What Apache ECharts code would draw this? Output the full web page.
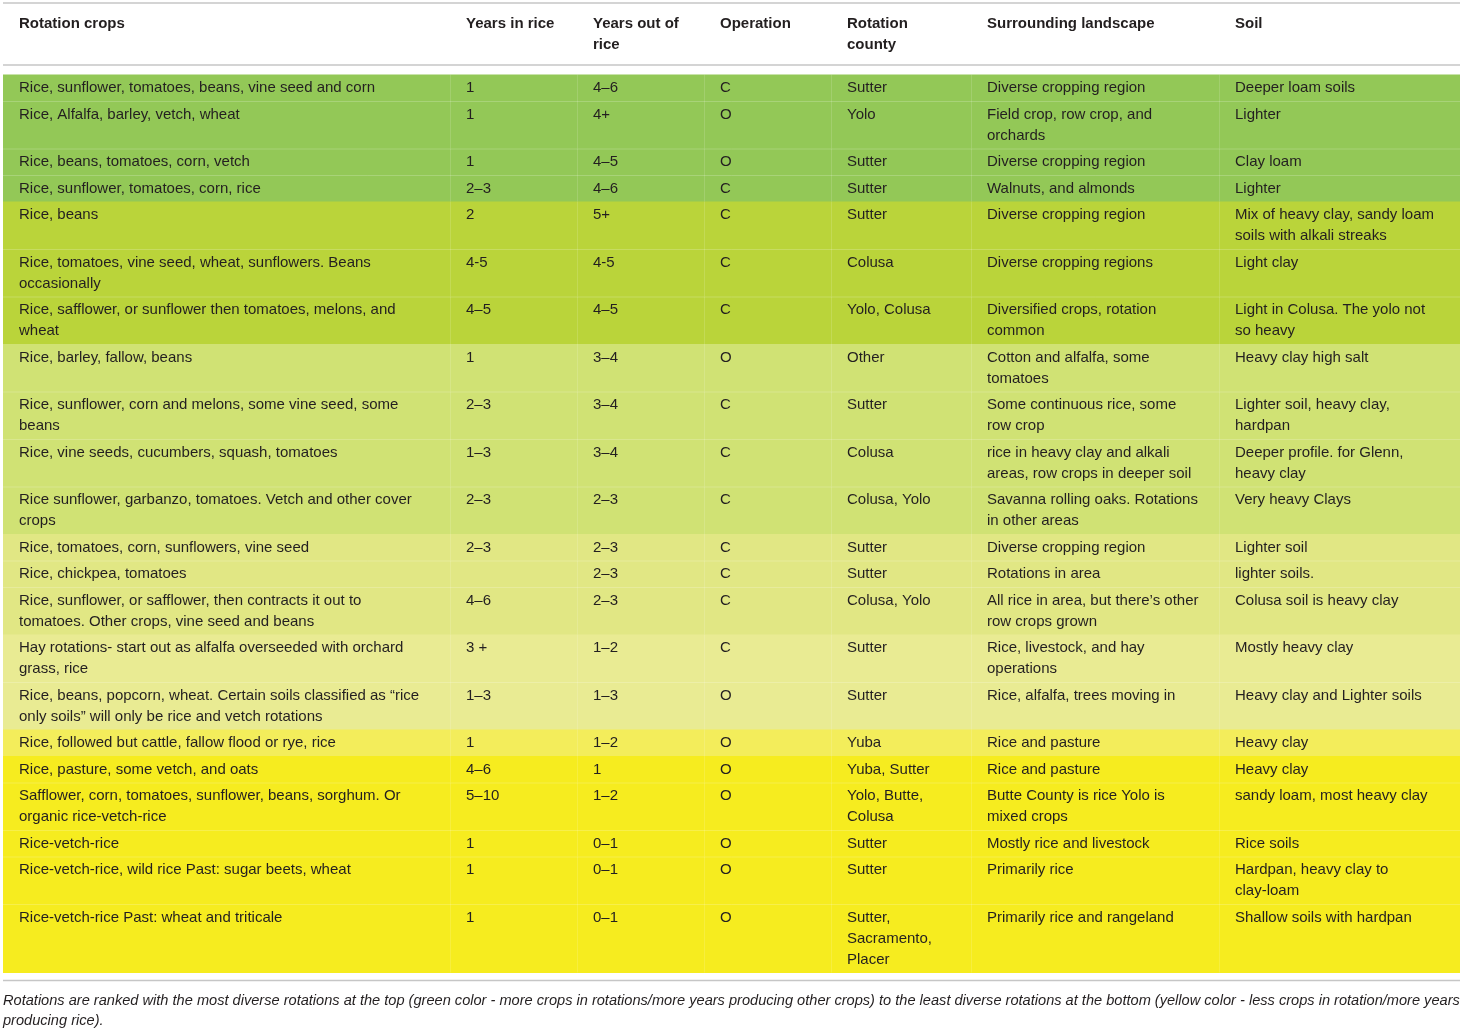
<!DOCTYPE html>
<html>
<head>
<meta charset="utf-8">
<script src="https://cdn.jsdelivr.net/npm/echarts@6/dist/echarts.min.js"></script>
<style>
  html, body { margin: 0; padding: 0; background: #fff; }
  #main { width: 1463px; height: 1030px; }
</style>
</head>
<body>
<div id="main"></div>
<script>
// table content, one array per column
const headers = ['Rotation crops', 'Years in rice', 'Years out of\nrice', 'Operation', 'Rotation\ncounty', 'Surrounding landscape', 'Soil'];

const crops = [
  'Rice, sunflower, tomatoes, beans, vine seed and corn',
  'Rice, Alfalfa, barley, vetch, wheat',
  'Rice, beans, tomatoes, corn, vetch',
  'Rice, sunflower, tomatoes, corn, rice',
  'Rice, beans',
  'Rice, tomatoes, vine seed, wheat, sunflowers. Beans\noccasionally',
  'Rice, safflower, or sunflower then tomatoes, melons, and\nwheat',
  'Rice, barley, fallow, beans',
  'Rice, sunflower, corn and melons, some vine seed, some\nbeans',
  'Rice, vine seeds, cucumbers, squash, tomatoes',
  'Rice sunflower, garbanzo, tomatoes. Vetch and other cover\ncrops',
  'Rice, tomatoes, corn, sunflowers, vine seed',
  'Rice, chickpea, tomatoes',
  'Rice, sunflower, or safflower, then contracts it out to\ntomatoes. Other crops, vine seed and beans',
  'Hay rotations- start out as alfalfa overseeded with orchard\ngrass, rice',
  'Rice, beans, popcorn, wheat. Certain soils classified as \u201crice\nonly soils\u201d will only be rice and vetch rotations',
  'Rice, followed but cattle, fallow flood or rye, rice',
  'Rice, pasture, some vetch, and oats',
  'Safflower, corn, tomatoes, sunflower, beans, sorghum. Or\norganic rice-vetch-rice',
  'Rice-vetch-rice',
  'Rice-vetch-rice, wild rice Past: sugar beets, wheat',
  'Rice-vetch-rice Past: wheat and triticale'
];
const yearsIn = ['1', '1', '1', '2\u20133', '2', '4-5', '4\u20135', '1', '2\u20133', '1\u20133', '2\u20133',
  '2\u20133', '', '4\u20136', '3 +', '1\u20133', '1', '4\u20136', '5\u201310', '1', '1', '1'];
const yearsOut = ['4\u20136', '4+', '4\u20135', '4\u20136', '5+', '4-5', '4\u20135', '3\u20134', '3\u20134', '3\u20134', '2\u20133',
  '2\u20133', '2\u20133', '2\u20133', '1\u20132', '1\u20133', '1\u20132', '1', '1\u20132', '0\u20131', '0\u20131', '0\u20131'];
const operation = ['C', 'O', 'O', 'C', 'C', 'C', 'C', 'O', 'C', 'C', 'C',
  'C', 'C', 'C', 'C', 'O', 'O', 'O', 'O', 'O', 'O', 'O'];
const county = ['Sutter', 'Yolo', 'Sutter', 'Sutter', 'Sutter', 'Colusa', 'Yolo, Colusa', 'Other', 'Sutter', 'Colusa', 'Colusa, Yolo',
  'Sutter', 'Sutter', 'Colusa, Yolo', 'Sutter', 'Sutter', 'Yuba', 'Yuba, Sutter', 'Yolo, Butte,\nColusa', 'Sutter', 'Sutter',
  'Sutter,\nSacramento,\nPlacer'];
const landscape = [
  'Diverse cropping region',
  'Field crop, row crop, and\norchards',
  'Diverse cropping region',
  'Walnuts, and almonds',
  'Diverse cropping region',
  'Diverse cropping regions',
  'Diversified crops, rotation\ncommon',
  'Cotton and alfalfa, some\ntomatoes',
  'Some continuous rice, some\nrow crop',
  'rice in heavy clay and alkali\nareas, row crops in deeper soil',
  'Savanna rolling oaks. Rotations\nin other areas',
  'Diverse cropping region',
  'Rotations in area',
  'All rice in area, but there\u2019s other\nrow crops grown',
  'Rice, livestock, and hay\noperations',
  'Rice, alfalfa, trees moving in',
  'Rice and pasture',
  'Rice and pasture',
  'Butte County is rice Yolo is\nmixed crops',
  'Mostly rice and livestock',
  'Primarily rice',
  'Primarily rice and rangeland'
];
const soil = [
  'Deeper loam soils',
  'Lighter',
  'Clay loam',
  'Lighter',
  'Mix of heavy clay, sandy loam\nsoils with alkali streaks',
  'Light clay',
  'Light in Colusa. The yolo not\nso heavy',
  'Heavy clay high salt',
  'Lighter soil, heavy clay,\nhardpan',
  'Deeper profile. for Glenn,\nheavy clay',
  'Very heavy Clays',
  'Lighter soil',
  'lighter soils.',
  'Colusa soil is heavy clay',
  'Mostly heavy clay',
  'Heavy clay and Lighter soils',
  'Heavy clay',
  'Heavy clay',
  'sandy loam, most heavy clay',
  'Rice soils',
  'Hardpan, heavy clay to\nclay-loam',
  'Shallow soils with hardpan'
];
// diversity rank group of each row (0 = most diverse, green)
const rankGroup = [0, 0, 0, 0, 1, 1, 1, 2, 2, 2, 2, 3, 3, 3, 4, 4, 5, 6, 6, 6, 6, 6];
const groupColors = ['#93c857', '#bad43a', '#d0e274', '#e1e784', '#e9eb93', '#f3ed5b', '#f6ec1f'];

const footnote = 'Rotations are ranked with the most diverse rotations at the top (green color - more crops in rotations/more years producing other crops) to the least diverse rotations at the bottom (yellow color - less crops in rotation/more years\nproducing rice).';

// layout
const colEdges = [3, 450, 577, 704, 831, 971, 1219, 1460];
const padX = 16;
const lineH = 21;
const rowPad = 5.5;
const headTop = 3;
const headBottom = 65;
const bodyTop = 74.5;
const fontFamily = '"Liberation Sans", Arial, sans-serif';
const textColor = '#231f20';

const columns = [crops, yearsIn, yearsOut, operation, county, landscape, soil];

// row top / bottom in table units
const rowTops = [];
const rowBottoms = [];
let y = bodyTop;
crops.forEach(function (c, i) {
  let lines = 1;
  columns.forEach(function (col) {
    lines = Math.max(lines, col[i].split('\n').length);
  });
  rowTops.push(y);
  y += lines * lineH + rowPad;
  rowBottoms.push(y);
});
const bodyBottom = y;
const tableBottom = bodyBottom + 8;

const chart = echarts.init(document.getElementById('main'));

function cellText(x, yy, text, bold) {
  return {
    type: 'text',
    style: {
      x: x, y: yy, text: text,
      fill: textColor,
      font: (bold ? 'bold ' : '') + '15px ' + fontFamily,
      lineHeight: lineH,
      verticalAlign: 'top',
      align: 'left'
    },
    silent: true
  };
}

const option = {
  animation: false,
  title: {
    text: footnote,
    left: 3,
    top: tableBottom + 10,
    padding: 0,
    textStyle: {
      fontFamily: fontFamily,
      fontStyle: 'italic',
      fontWeight: 'normal',
      fontSize: 14.6,
      lineHeight: 20,
      color: textColor
    }
  },
  grid: { left: 0, right: 0, top: 0, bottom: 0 },
  xAxis: { type: 'value', min: 0, max: 1463, show: false },
  yAxis: { type: 'value', min: 0, max: 1030, inverse: true, show: false },
  series: [
    {
      // header rules and header labels
      type: 'custom',
      data: [0],
      renderItem: function (params, api) {
        const children = [];
        const p0 = api.coord([colEdges[0], headTop]);
        const p1 = api.coord([colEdges[colEdges.length - 1], headTop]);
        const h0 = api.coord([colEdges[0], headBottom]);
        const b0 = api.coord([colEdges[0], tableBottom]);
        [p0[1], h0[1], b0[1]].forEach(function (ly) {
          children.push({
            type: 'line',
            shape: { x1: p0[0], y1: ly, x2: p1[0], y2: ly },
            style: { stroke: '#c6c6c6', lineWidth: 1.6 }
          });
        });
        headers.forEach(function (h, c) {
          const p = api.coord([colEdges[c] + padX, headTop + 10.5]);
          children.push(cellText(p[0], p[1], h, true));
        });
        return { type: 'group', children: children };
      }
    },
    {
      // body rows: background, faint cell rules, text
      type: 'custom',
      data: crops.map(function (c, i) { return [i, rowTops[i], rowBottoms[i], rankGroup[i]]; }),
      renderItem: function (params, api) {
        const i = params.dataIndex;
        const top = api.value(1);
        const bottom = api.value(2);
        const tl = api.coord([colEdges[0], top]);
        const br = api.coord([colEdges[colEdges.length - 1], bottom]);
        const children = [{
          type: 'rect',
          shape: { x: tl[0], y: tl[1], width: br[0] - tl[0], height: br[1] - tl[1] + 0.5 },
          style: { fill: groupColors[api.value(3)] }
        }];
        if (i > 0 && rankGroup[i - 1] === rankGroup[i]) {
          children.push({
            type: 'line',
            shape: { x1: tl[0], y1: tl[1] + 0.5, x2: br[0], y2: tl[1] + 0.5 },
            style: { stroke: 'rgba(255,255,255,0.2)', lineWidth: 1 }
          });
        }
        for (let c = 1; c < colEdges.length - 1; c++) {
          const vx = api.coord([colEdges[c], top])[0];
          children.push({
            type: 'line',
            shape: { x1: vx + 0.5, y1: tl[1], x2: vx + 0.5, y2: br[1] },
            style: { stroke: 'rgba(255,255,255,0.14)', lineWidth: 1 }
          });
        }
        columns.forEach(function (col, c) {
          const p = api.coord([colEdges[c] + padX, top + 3]);
          children.push(cellText(p[0], p[1], col[i], false));
        });
        return { type: 'group', children: children };
      }
    }
  ]
};

chart.setOption(option);
</script>
</body>
</html>
